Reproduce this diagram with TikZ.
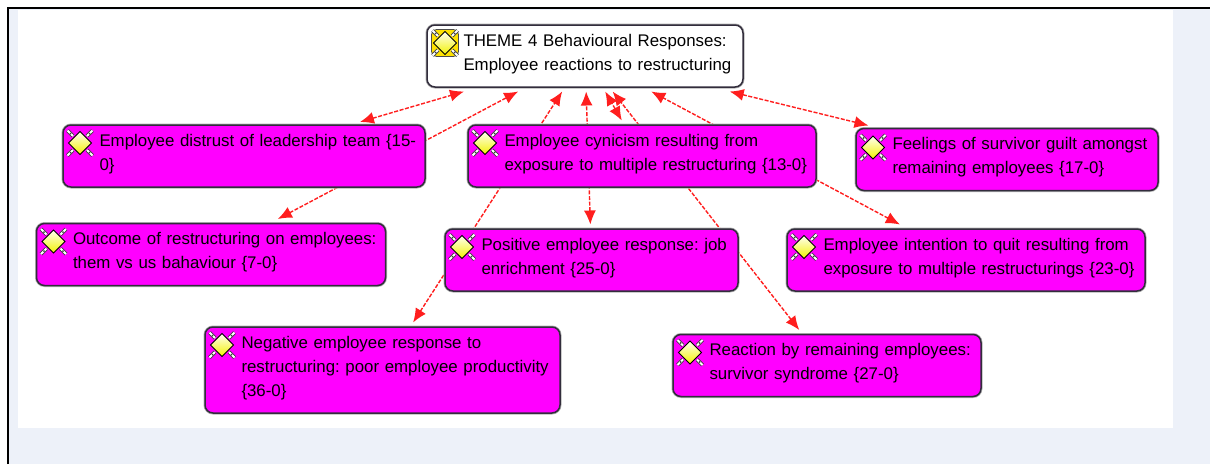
\documentclass[tikz,border=0pt]{standalone}
\usepackage{fontspec}
\setmainfont{Liberation Sans}
\usepackage{xcolor}
\usepackage{tikz}
\definecolor{panelblue}{RGB}{237, 241, 249}
\definecolor{conceptpink}{RGB}{255, 0, 255}
\definecolor{linkred}{RGB}{255, 30, 30}
\definecolor{boxgray}{RGB}{50, 45, 60}
\usetikzlibrary{arrows.meta,backgrounds}

\tikzset{
    markarms/.pic={
        \draw[black!75, line width=3.6pt] (-7,-7) -- (-12.5,-12.5) (7,-7) -- (12.5,-12.5) (-7,7) -- (-12.5,12.5) (7,7) -- (12.5,12.5);
        \draw[white, line width=2pt] (-7,-7) -- (-12.5,-12.5) (7,-7) -- (12.5,-12.5) (-7,7) -- (-12.5,12.5) (7,7) -- (12.5,12.5);
        \fill[black!75] (-9.5,-9.5) circle (1pt) (9.5,-9.5) circle (1pt) (-9.5,9.5) circle (1pt) (9.5,9.5) circle (1pt);
    },
    groundmark/.pic={
        \pic {markarms};
        \draw[black, line width=0.9pt, top color=yellow!5, bottom color=yellow!95!black] (0,-11.5) -- (11.5,0) -- (0,11.5) -- (-11.5,0) -- cycle;
    },
    thememark/.pic={
        \draw[black!70, fill=yellow!85!orange, line width=0.8pt, rounded corners=5pt] (-13.5,-13.5) rectangle (13.5,13.5);
        \pic {groundmark};
    }
}

\begin{document}
\frenchspacing
\begin{tikzpicture}[x=1pt, y=-1pt, >={Latex[length=14pt,width=12pt]}]
    % Define styles
    \tikzstyle{concept} = [rectangle, rounded corners=8pt, draw=boxgray, fill=conceptpink, line width=1.5pt,
                           preaction={draw=black!30, line width=3pt},
                           inner xsep=0pt, inner ysep=0pt, outer sep=4.5pt, minimum height=62pt, align=left,
                           font=\fontsize{16.85}{24}\selectfont, execute at begin node={\leftskip=36.5pt},
                           execute at end node={\endgraf\vskip4pt\hrule height 0pt}]
    \tikzstyle{theme} = [concept, fill=white]
    \tikzstyle{link} = [<->, linkred, line width=1.4pt, dash pattern=on 4pt off 1.6pt]

    \useasboundingbox (0,0) rectangle (1210,464);

    % Nodes
    \node[theme, text width=316pt] (theme4) at (585,56) {THEME 4 Behavioural Responses:\\Employee reactions to restructuring};
    \node[concept, text width=362pt, outer sep=3pt] (distrust) at (244,156) {Employee distrust of leadership team \{15-\\0\}};
    \node[concept, text width=348pt] (cynicism) at (642,156) {Employee cynicism resulting from\\exposure to multiple restructuring \{13-0\}};
    \node[concept, text width=302pt, outer sep=3pt] (guilt) at (1007,159.5) {Feelings of survivor guilt amongst\\remaining employees \{17-0\}};
    \node[concept, text width=349pt] (outcome) at (211,254.5) {Outcome of restructuring on employees:\\them vs us bahaviour \{7-0\}};
    \node[concept, text width=293pt] (positive) at (591.5,260) {Positive employee response: job\\enrichment \{25-0\}};
    \node[concept, text width=358pt] (intention) at (966,260) {Employee intention to quit resulting from\\exposure to multiple restructurings \{23-0\}};
    \node[concept, text width=355pt, minimum height=86pt] (negative) at (382.5,370) {Negative employee response to\\restructuring: poor employee productivity\\\{36-0\}};
    \node[concept, text width=308pt] (reaction) at (827,365.5) {Reaction by remaining employees:\\survivor syndrome \{27-0\}};

    % Icons
    \pic at ([shift={(22.5,22.5)}]theme4.north west) {thememark};
    \pic at ([shift={(20,21)}]distrust.north west) {groundmark};
    \pic at ([shift={(21.5,22.5)}]cynicism.north west) {groundmark};
    \pic at ([shift={(20,22)}]guilt.north west) {groundmark};
    \pic at ([shift={(21.5,22.5)}]outcome.north west) {groundmark};
    \pic at ([shift={(21.5,22.5)}]positive.north west) {groundmark};
    \pic at ([shift={(21.5,22.5)}]intention.north west) {groundmark};
    \pic at ([shift={(21.5,22.5)}]negative.north west) {groundmark};
    \pic at ([shift={(21.5,22.5)}]reaction.north west) {groundmark};

    % Connections
    \begin{scope}[on background layer]
        \fill[panelblue] (8,8) rectangle (1210,464);
        \fill[white] (18,10) rectangle (1173,428);
        \draw[black, line width=1.8pt] (8,464) -- (8,8) -- (1210,8);
        \draw[link] (distrust) -- (theme4);
        \draw[link] (outcome) -- (theme4);
        \draw[link] (negative) -- (theme4);
        \draw[link] (positive) -- (theme4);
        \draw[link] (cynicism) -- (theme4);
        \draw[link] (reaction) -- (theme4);
        \draw[link] (intention) -- (theme4);
        \draw[link] (guilt) -- (theme4);
    \end{scope}
\end{tikzpicture}
\end{document}
